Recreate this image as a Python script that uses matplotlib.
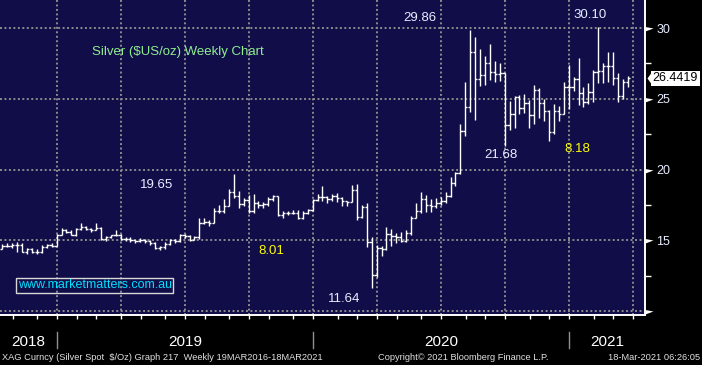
import matplotlib
matplotlib.use("Agg")
import matplotlib.pyplot as plt
import numpy as np
import pandas as pd

# weekly bar calendar: week ending fridays, 12 Oct 2018 onwards (3 empty weeks at the right)
weeks = pd.date_range("2018-10-12", periods=131, freq="W-FRI")

# silver spot weekly OHLC ($US/oz)
opens = [14.40, 14.60, 14.62, 14.66, 14.70, 14.20, 14.35, 14.20, 14.18, 14.55, 14.65, 14.62,
         15.38, 15.75, 15.60, 15.40, 15.80, 15.95, 15.78, 15.75, 15.85, 15.10, 15.25, 15.35,
         15.40, 15.10, 15.10, 15.00, 14.95, 15.05, 14.95, 14.80, 14.45, 14.55, 14.75, 15.05,
         14.95, 15.35, 15.30, 15.05, 15.20, 16.20, 16.30, 16.25, 17.05, 17.10, 17.45, 18.40,
         18.15, 17.55, 17.85, 17.10, 17.60, 17.50, 17.55, 17.95, 18.10, 16.80, 16.95, 16.90,
         16.95, 16.55, 16.95, 17.15,
         17.85, 18.05, 18.05, 17.95, 18.10, 18.00, 17.75, 17.70, 18.55, 16.65, 17.35, 14.85,
         12.55, 14.45, 14.35, 15.45, 15.30, 15.20, 14.95, 15.50, 16.60, 17.10, 17.95, 17.50,
         17.45, 17.60, 17.80, 18.10, 19.05, 19.75, 22.75, 24.40, 28.30, 26.40, 26.65, 27.50,
         26.90, 26.75, 26.80, 23.15, 23.90, 25.10, 24.35, 24.70, 23.85, 25.60, 24.70, 24.15,
         22.65, 24.15, 23.95, 25.80,
         25.85, 26.40, 25.40, 24.80, 25.50, 26.90, 26.95, 27.30, 27.30, 26.50, 25.20, 26.20]
highs = [14.75, 14.80, 14.78, 14.85, 14.80, 14.45, 14.45, 14.35, 14.65, 14.75, 14.80, 15.45,
         15.85, 15.80, 15.70, 15.85, 16.25, 15.98, 15.85, 16.20, 15.95, 15.30, 15.40, 15.70,
         15.45, 15.25, 15.20, 15.05, 15.15, 15.10, 15.00, 14.85, 14.60, 14.85, 15.10, 15.10,
         15.45, 15.45, 15.40, 15.30, 16.55, 16.60, 16.45, 17.25, 17.50, 17.95, 18.65, 19.65,
         18.45, 18.00, 18.20, 18.25, 17.80, 17.70, 18.05, 18.20, 18.15, 17.05, 17.10, 17.15,
         17.15, 17.10, 17.20, 17.95,
         18.25, 18.85, 18.15, 18.25, 18.35, 18.05, 17.80, 18.90, 18.95, 17.50, 17.60, 15.20,
         14.70, 14.60, 15.95, 15.80, 15.50, 15.60, 15.70, 16.70, 17.60, 18.40, 18.20, 17.90,
         18.00, 18.05, 18.40, 19.50, 19.85, 23.25, 26.20, 29.86, 29.40, 28.50, 28.00, 28.90,
         27.70, 27.50, 26.85, 24.85, 25.20, 25.25, 25.35, 24.90, 26.00, 25.75, 25.00, 24.20,
         24.60, 24.50, 26.20, 27.40,
         26.55, 27.90, 25.85, 26.10, 27.05, 30.10, 27.55, 28.30, 28.30, 26.80, 26.40, 26.60]
lows = [14.35, 14.50, 14.45, 14.20, 14.15, 14.05, 14.10, 14.05, 14.10, 14.45, 14.50, 14.60,
        15.40, 15.50, 15.35, 15.30, 15.75, 15.70, 15.60, 15.70, 15.00, 14.95, 15.15, 15.30,
        15.05, 14.95, 14.85, 14.80, 14.85, 14.80, 14.70, 14.35, 14.30, 14.40, 14.65, 14.80,
        14.90, 15.15, 14.95, 15.00, 15.10, 16.15, 16.00, 16.20, 16.90, 16.95, 17.40, 18.00,
        17.30, 17.40, 16.95, 16.95, 17.30, 17.30, 17.40, 17.80, 16.70, 16.60, 16.80, 16.85,
        16.50, 16.50, 16.85, 17.10,
        17.80, 17.80, 17.60, 17.75, 17.70, 17.45, 17.45, 17.70, 16.45, 16.55, 14.50, 11.64,
        12.40, 13.90, 14.30, 14.60, 14.80, 14.85, 14.90, 15.40, 16.60, 16.90, 17.00, 17.00,
        17.30, 17.50, 17.65, 18.05, 18.85, 19.65, 22.35, 24.10, 23.50, 25.90, 25.95, 26.30,
        26.20, 26.25, 21.68, 22.80, 22.95, 23.90, 24.00, 22.90, 23.20, 23.65, 23.40, 22.00,
        22.50, 23.40, 23.90, 24.30,
        25.55, 24.55, 24.45, 24.60, 24.75, 26.15, 26.10, 26.20, 26.00, 24.80, 25.00, 25.80]
closes = [14.60, 14.62, 14.66, 14.70, 14.20, 14.35, 14.20, 14.18, 14.55, 14.65, 14.62, 15.38,
          15.75, 15.60, 15.40, 15.80, 15.95, 15.78, 15.75, 15.85, 15.10, 15.25, 15.35, 15.40,
          15.10, 15.10, 15.00, 14.95, 15.05, 14.95, 14.80, 14.45, 14.55, 14.75, 15.05, 14.95,
          15.35, 15.30, 15.05, 15.20, 16.20, 16.30, 16.25, 17.05, 17.10, 17.45, 18.40, 18.15,
          17.55, 17.85, 17.10, 17.60, 17.50, 17.55, 17.95, 18.10, 16.80, 16.95, 16.90, 16.95,
          16.55, 16.95, 17.15, 17.85,
          18.05, 18.05, 17.95, 18.10, 18.00, 17.75, 17.70, 18.55, 16.65, 17.35, 14.85, 12.55,
          14.45, 14.35, 15.45, 15.30, 15.20, 14.95, 15.50, 16.60, 17.10, 17.95, 17.50, 17.45,
          17.60, 17.80, 18.10, 19.05, 19.75, 22.75, 24.40, 28.30, 26.40, 26.65, 27.50, 26.90,
          26.75, 26.80, 23.15, 23.90, 25.10, 24.35, 24.70, 23.85, 25.60, 24.70, 24.15, 22.65,
          24.15, 23.95, 25.80, 25.85,
          26.40, 25.40, 24.80, 25.50, 26.90, 26.95, 27.30, 27.30, 26.50, 25.20, 26.20, 26.4419]

price_ticks = [10, 15, 20, 25, 30]
price_labels = ["", "15", "20", "25", "30"]
minor_ticks = [12.5, 17.5, 22.5, 27.5]

# swing labels: (text, colour, x, y in axes fraction)
notes = [("29.86", "#e8eeff", 0.651, 0.943), ("30.10", "#e8eeff", 0.915, 0.952),
         ("21.68", "#e8eeff", 0.777, 0.508), ("8.18", "#ffff00", 0.895, 0.527),
         ("19.65", "#e8eeff", 0.243, 0.414), ("8.01", "#ffff00", 0.420, 0.204),
         ("11.64", "#e8eeff", 0.533, 0.051)]

SANS = ["Liberation Sans", "DejaVu Sans"]
NARROW = ["Liberation Sans Narrow", "Liberation Sans", "DejaVu Sans"]
GRID = "#8c8c8c"

fig = plt.figure(figsize=(7.02, 3.65), dpi=100, facecolor="black")
ax = fig.add_axes([0, 50 / 365, 645 / 702, 315 / 365])
ax.set_facecolor("#100d48")
ax.set_xlim(-0.49, 130.5)
ax.set_ylim(9.72, 31.98)

# bars: high-low line, open tick left, close tick right
x = np.arange(len(closes))
ax.vlines(x, lows, highs, color="white", lw=1.0, zorder=3)
ax.hlines(opens, x - 0.45, x, color="white", lw=1.0, zorder=3)
ax.hlines(closes, x, x + 0.45, color="white", lw=1.0, zorder=3)

# x axis: month ticks, quarter grid, year bands
new_month = [i for i in range(1, len(weeks)) if weeks[i].month != weeks[i - 1].month]
month_edges = [i - 0.9 for i in new_month]
quarter_edges = [i - 0.9 for i in new_month if weeks[i].month in (1, 4, 7, 10)]
year_edges = [i - 0.9 for i in new_month if weeks[i].month == 1]
ax.set_xticks(quarter_edges)
ax.set_xticks(month_edges, minor=True)
ax.tick_params(axis="x", which="both", direction="out", length=3, width=1,
               color="white", labelbottom=False)

ax.yaxis.tick_right()
ax.set_yticks(price_ticks, price_labels)
ax.set_yticks(minor_ticks, minor=True)
ax.tick_params(axis="y", which="major", length=0, pad=8, labelsize=9,
               labelcolor="#e8eeff", labelfontfamily=SANS)
ax.tick_params(axis="y", which="minor", direction="out", length=4, width=1, color="white")
ax.grid(which="major", color=GRID, lw=1.4, ls=(0, (1, 1.3)))
ax.set_axisbelow(True)

for side in ["left", "top"]:
    ax.spines[side].set_visible(False)
for side in ["right", "bottom"]:
    ax.spines[side].set_color("white")
    ax.spines[side].set_linewidth(1.4)

ytrans = ax.get_yaxis_transform()
ax.plot([1.0] * len(price_ticks), price_ticks, ls="none", marker=[(0, 1.5), (8, 0), (0, -3)],
        ms=11.5, color="white", mec="none", transform=ytrans, clip_on=False)

# last price flag
last = closes[-1]
ax.plot([1.003], [last], ls="none", marker=[(0, 0), (5, 7), (5, -7)], ms=10,
        color="white", mec="none", transform=ytrans, clip_on=False)
ax.text(1.012, last, f"{last:.4f}", transform=ytrans, ha="left", va="center",
        fontsize=9, family=SANS, color="black", clip_on=False,
        bbox=dict(boxstyle="square,pad=0.12", fc="white", ec="none"))

# year labels and separators below the axis
xtrans = ax.get_xaxis_transform()
bounds = [ax.get_xlim()[0]] + year_edges + [ax.get_xlim()[1]]
for k, yr in enumerate(range(2018, 2022)):
    ax.text((bounds[k] + bounds[k + 1]) / 2, -0.085, str(yr), transform=xtrans,
            ha="center", va="center", color="white", fontsize=11, family=NARROW)
for e in year_edges:
    ax.plot([e, e], [-0.054, -0.105], color="#909090", lw=1, transform=xtrans, clip_on=False)

# annotations
ax.text(0.143, 0.836, "Silver ($US/oz) Weekly Chart", transform=ax.transAxes, ha="left",
        va="center", color="#90ee90", fontsize=9.5, family=SANS)
for txt, col, fx, fy in notes:
    ax.text(fx, fy, txt, transform=ax.transAxes, ha="center", va="center",
            color=col, fontsize=9.5, family=SANS)
ax.text(0.147, 0.094, "www.marketmatters.com.au", transform=ax.transAxes, ha="center",
        va="center", color="#00e0ff", fontsize=9, family=SANS,
        bbox=dict(boxstyle="square,pad=0.12", fc="none", ec="#d8d8d8", lw=1))

# footer
fy = 1 - 357.5 / 365
fig.text(0.003, fy, "XAG Curncy (Silver Spot  $/Oz) Graph 217  Weekly 19MAR2016-18MAR2021",
         ha="left", va="center", color="#e0e0e0", fontsize=6.7, family=NARROW)
fig.text(463 / 702, fy, "Copyright\u00a9 2021 Bloomberg Finance L.P.", ha="center",
         va="center", color="#e0e0e0", fontsize=6.7, family=NARROW)
fig.text(0.997, fy, "18-Mar-2021 06:26:05", ha="right", va="center", color="#e0e0e0",
         fontsize=6.7, family=NARROW)

fig.savefig("out.png", dpi=100, facecolor="black")
